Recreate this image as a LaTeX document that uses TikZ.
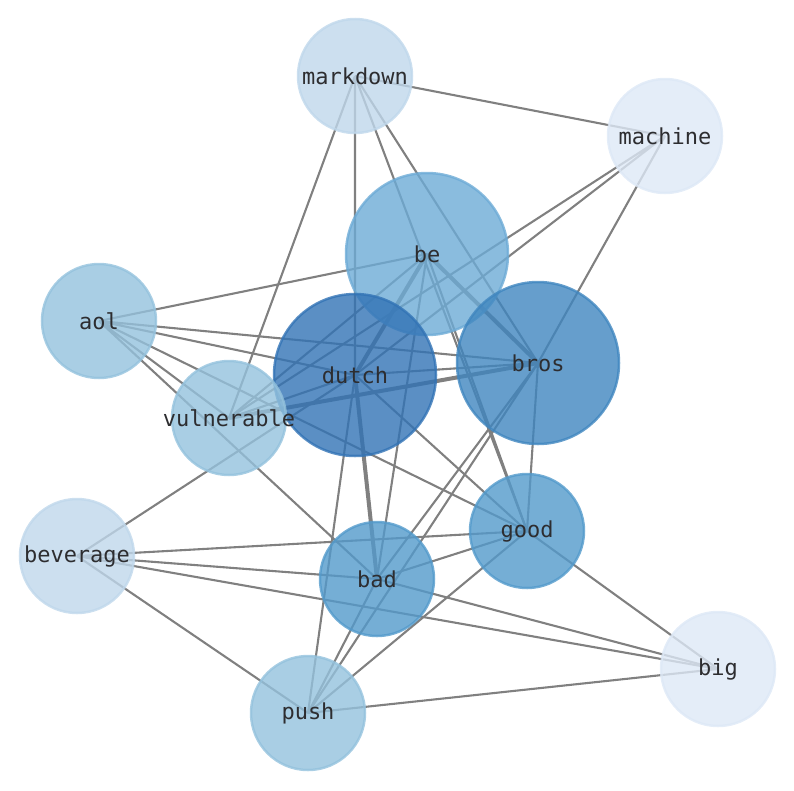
\documentclass[tikz,border=0pt]{standalone}
\usepackage{fontspec}
\newfontfamily\wordfont{DejaVu Sans Mono}
\pgfdeclarelayer{background}
\pgfsetlayers{background,main}
\definecolor{shadeA}{RGB}{221,232,246}
\definecolor{shadeB}{RGB}{191,215,235}
\definecolor{shadeC}{RGB}{148,194,221}
\definecolor{shadeD}{RGB}{109,171,214}
\definecolor{shadeE}{RGB}{83,154,203}
\definecolor{shadeF}{RGB}{64,134,191}
\definecolor{shadeG}{RGB}{50,115,181}
\definecolor{linkgray}{RGB}{128,128,128}
\definecolor{labelgray}{RGB}{45,45,48}

\begin{document}
\begin{tikzpicture}[x=1pt,y=-1pt,
    word/.style={circle,inner sep=0pt,line width=2.5pt,fill opacity=0.8,draw opacity=0.8,text opacity=1,text=labelgray,
        font=\wordfont\fontsize{22}{24}\selectfont,
        execute at begin node=\hbox to 0pt\bgroup\hss,execute at end node=\hss\egroup},
    hub/.style={word,minimum size=162pt},
    leaf/.style={word,minimum size=114pt},
    link/.style={draw=linkgray,line width=2.1pt},
    heavy/.style={draw=linkgray,line width=4pt}]
    \useasboundingbox (0,0) rectangle (794,790);
    \node[leaf,fill=shadeB,draw=shadeB] (markdown) at (355,76) {markdown};
    \node[leaf,fill=shadeA,draw=shadeA] (machine) at (665,136) {machine};
    \node[hub,fill=shadeD,draw=shadeD] (be) at (427,254) {be};
    \node[leaf,fill=shadeC,draw=shadeC] (aol) at (99,321) {aol};
    \node[hub,fill=shadeG,draw=shadeG] (dutch) at (355,375) {dutch};
    \node[hub,fill=shadeF,draw=shadeF] (bros) at (538,363) {bros};
    \node[leaf,fill=shadeC,draw=shadeC] (vulnerable) at (229,418) {vulnerable};
    \node[leaf,fill=shadeB,draw=shadeB] (beverage) at (77,556) {beverage};
    \node[leaf,fill=shadeE,draw=shadeE] (good) at (527,531) {good};
    \node[leaf,fill=shadeE,draw=shadeE] (bad) at (377,579) {bad};
    \node[leaf,fill=shadeA,draw=shadeA] (big) at (718,669) {big};
    \node[leaf,fill=shadeC,draw=shadeC] (push) at (308,713) {push};
    \begin{pgfonlayer}{background}
        \draw[link] (markdown.center)--(machine.center) (markdown.center)--(vulnerable.center)
            (markdown.center)--(dutch.center) (markdown.center)--(good.center) (markdown.center)--(bros.center);
        \draw[link] (machine.center)--(vulnerable.center) (machine.center)--(dutch.center) (machine.center)--(bros.center);
        \draw[link] (be.center)--(aol.center) (be.center)--(vulnerable.center) (be.center)--(bad.center) (be.center)--(good.center);
        \draw[link] (aol.center)--(bros.center) (aol.center)--(dutch.center) (aol.center)--(good.center)
            (aol.center)--(vulnerable.center) (aol.center)--(bad.center);
        \draw[link] (vulnerable.center)--(dutch.center);
        \draw[link] (dutch.center)--(bros.center) (dutch.center)--(good.center) (dutch.center)--(push.center)
            (dutch.center)--(beverage.center);
        \draw[link] (bros.center)--(bad.center) (bros.center)--(push.center) (bros.center)--(good.center);
        \draw[link] (good.center)--(beverage.center) (good.center)--(bad.center) (good.center)--(push.center)
            (good.center)--(big.center);
        \draw[link] (bad.center)--(beverage.center) (bad.center)--(big.center) (bad.center)--(push.center);
        \draw[link] (beverage.center)--(big.center) (beverage.center)--(push.center) (push.center)--(big.center);
        \draw[heavy] (be.center)--(dutch.center) (be.center)--(bros.center) (dutch.center)--(bad.center)
            (bros.center)--(vulnerable.center);
    \end{pgfonlayer}
\end{tikzpicture}
\end{document}
